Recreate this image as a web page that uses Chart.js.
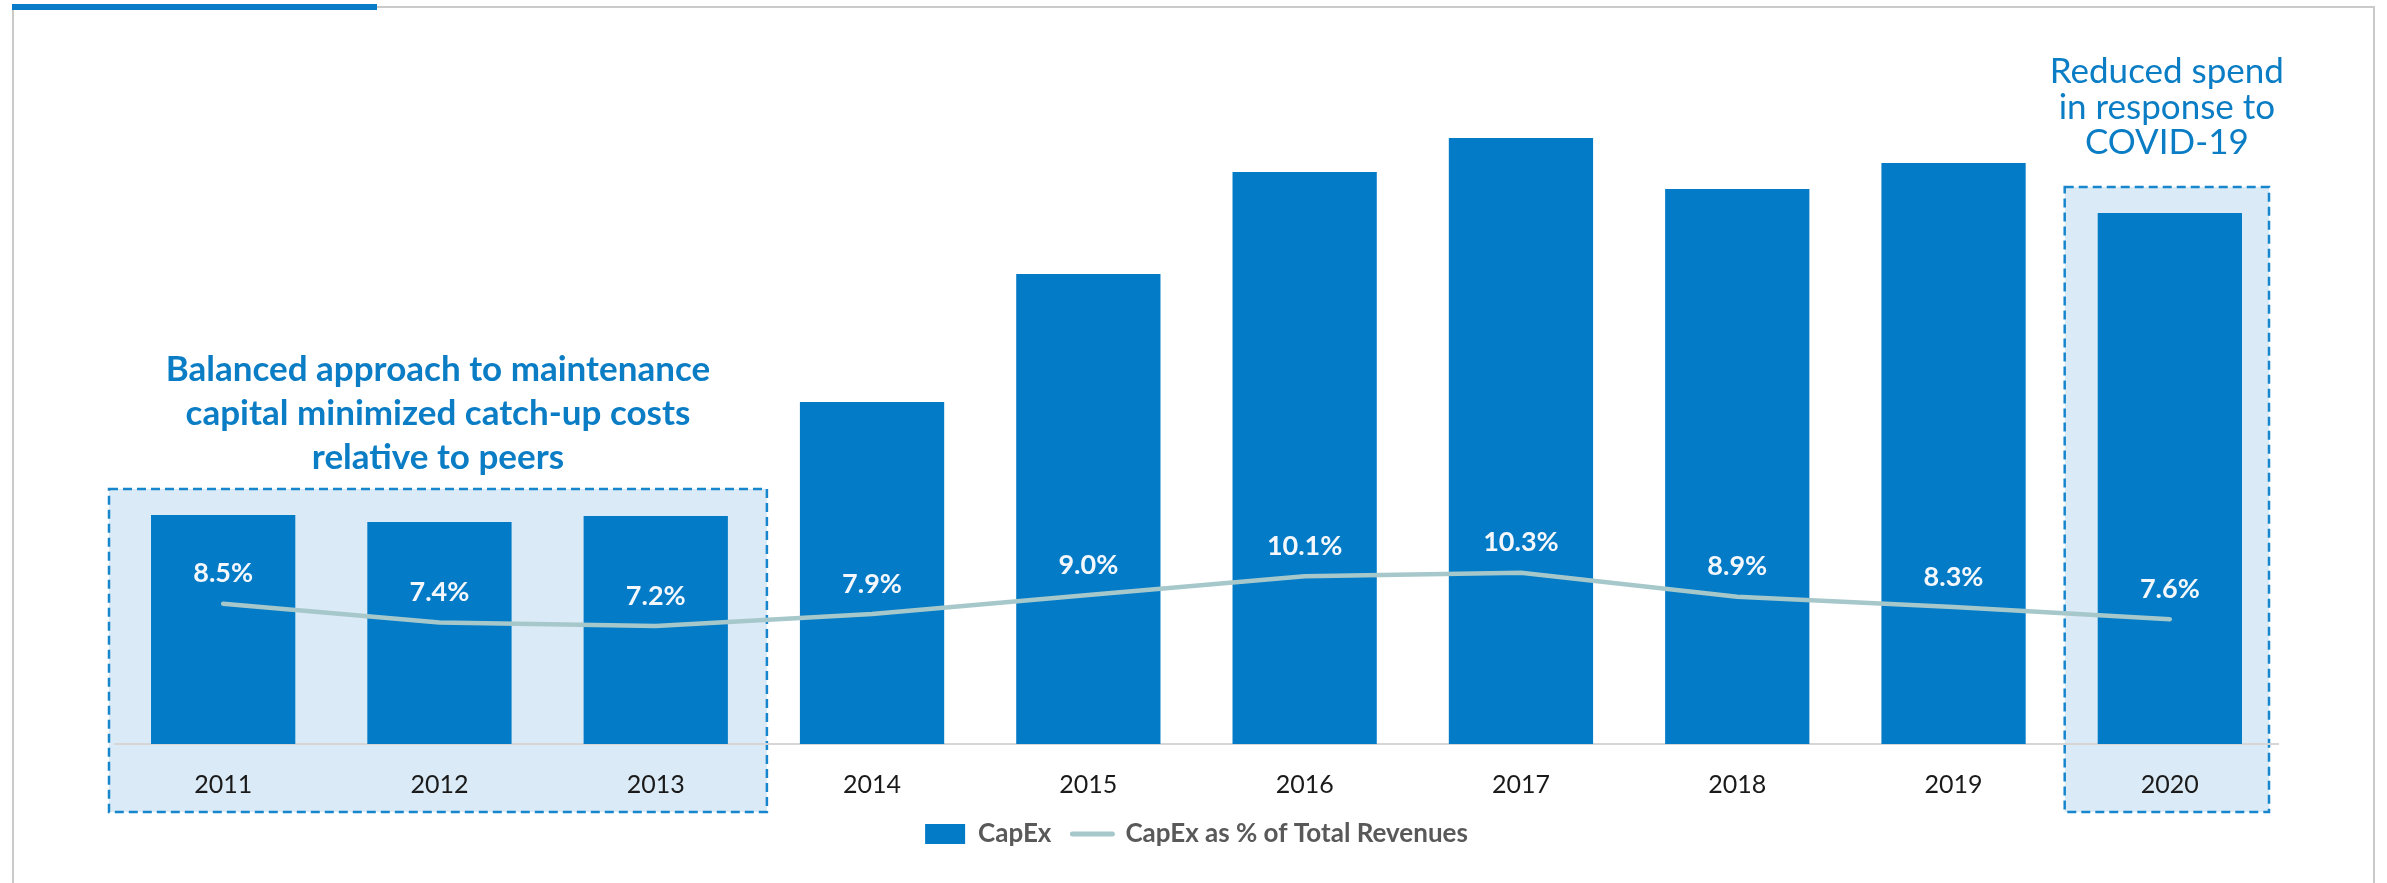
<!DOCTYPE html>
<html>
<head>
<meta charset="utf-8">
<script src="https://cdn.jsdelivr.net/npm/chart.js@4.4.1/dist/chart.umd.min.js"></script>
<style>
  html, body { margin: 0; padding: 0; background: #ffffff; }
  #wrap { position: relative; width: 2387px; height: 883px; overflow: hidden; }
  #frame {
    position: absolute; left: 12px; top: 6px; width: 2359px; height: 900px;
    border-left: 2px solid #cacaca; border-top: 2px solid #cacaca; border-right: 2px solid #cacaca;
  }
  #accent { position: absolute; left: 12px; top: 4px; width: 365px; height: 6px; background: #0a7bc6; }
  #c { position: absolute; left: 0; top: 0; }
</style>
</head>
<body>
<div id="wrap">
  <div id="frame"></div>
  <div id="accent"></div>
  <canvas id="c" width="2387" height="883"></canvas>
</div>
<script>
// Fiscal years shown on the category axis
const years = ['2011', '2012', '2013', '2014', '2015', '2016', '2017', '2018', '2019', '2020'];
// Capital expenditure per year (relative units)
const capex = [229, 222, 228, 342, 470, 572, 606, 555, 581, 531];
// CapEx as a share of total revenues, in percent
const capexPct = [8.5, 7.4, 7.2, 7.9, 9.0, 10.1, 10.3, 8.9, 8.3, 7.6];
// Value labels printed above the percentage line
const pctLabels = capexPct.map(v => v.toFixed(1) + '%');

// Callout boxes: category index range and their caption lines
const calloutRanges = [
  { from: 0, to: 2, padL: -6, padR: 3, bold: true,
    lines: ['Balanced approach to maintenance', 'capital minimized catch-up costs', 'relative to peers'] },
  { from: 9, to: 9, padL: 3, padR: -9, bold: false,
    lines: ['Reduced spend', 'in response to', 'COVID-19'] }
];

const BAR_BLUE = '#037bc7';
const LINE_TEAL = '#a6c8cb';
const CALLOUT_BLUE = '#0b7dc5';
const FONT = 'Lato, "Open Sans", sans-serif';

function boxGeometry(chart, c) {
  const x = chart.scales.x, y = chart.scales.y;
  const step = x.getPixelForValue(1) - x.getPixelForValue(0);
  const left = x.getPixelForValue(c.from) - step / 2 + c.padL;
  const right = x.getPixelForValue(c.to) + step / 2 + c.padR;
  let maxVal = 0;
  for (let i = c.from; i <= c.to; i++) maxVal = Math.max(maxVal, capex[i]);
  const top = y.getPixelForValue(maxVal) - 26;
  const bottom = chart.chartArea.bottom + 68;
  return { left, right, top, bottom };
}

const calloutPlugin = {
  id: 'callouts',
  beforeDraw(chart) {
    const ctx = chart.ctx;
    ctx.save();
    calloutRanges.forEach(c => {
      const g = boxGeometry(chart, c);
      ctx.fillStyle = '#daeaf6';
      ctx.fillRect(g.left, g.top, g.right - g.left, g.bottom - g.top);
      ctx.setLineDash([9, 5]);
      ctx.lineWidth = 2.5;
      ctx.strokeStyle = '#1786cd';
      ctx.strokeRect(g.left, g.top, g.right - g.left, g.bottom - g.top);
    });
    ctx.restore();
  },
  afterDraw(chart) {
    const ctx = chart.ctx;
    ctx.save();
    ctx.fillStyle = CALLOUT_BLUE;
    ctx.textAlign = 'center';
    ctx.textBaseline = 'alphabetic';
    calloutRanges.forEach(c => {
      const g = boxGeometry(chart, c);
      const cx = (g.left + g.right) / 2;
      if (c.bold) {
        ctx.font = 'bold 35px ' + FONT;
        c.lines.forEach((t, i) => ctx.fillText(t, cx, g.top - 108 + i * 44));
      } else {
        ctx.font = '35px ' + FONT;
        c.lines.forEach((t, i) => ctx.fillText(t, cx, g.top - 104 + i * 35.5));
      }
    });
    ctx.restore();
  }
};

const valueLabelPlugin = {
  id: 'valueLabels',
  afterDatasetsDraw(chart) {
    const meta = chart.getDatasetMeta(1);
    const ctx = chart.ctx;
    ctx.save();
    ctx.fillStyle = '#f4f8fc';
    ctx.font = 'bold 27px ' + FONT;
    ctx.textAlign = 'center';
    ctx.textBaseline = 'middle';
    meta.data.forEach((pt, i) => {
      ctx.fillText(pctLabels[i], pt.x, pt.y - 30);
    });
    ctx.restore();
  }
};

const chart = new Chart(document.getElementById('c'), {
  type: 'bar',
  data: {
    labels: years,
    datasets: [
      {
        type: 'bar',
        label: 'CapEx',
        data: capex,
        backgroundColor: BAR_BLUE,
        borderWidth: 0,
        yAxisID: 'y',
        order: 1,
        categoryPercentage: 1.0,
        barPercentage: 0.667
      },
      {
        type: 'line',
        label: 'CapEx as % of Total Revenues',
        data: capexPct,
        borderColor: LINE_TEAL,
        backgroundColor: LINE_TEAL,
        borderWidth: 4.5,
        borderCapStyle: 'round',
        borderJoinStyle: 'round',
        pointRadius: 0,
        pointHoverRadius: 0,
        tension: 0,
        yAxisID: 'y2',
        order: 0
      }
    ]
  },
  options: {
    responsive: false,
    animation: false,
    devicePixelRatio: 1,
    layout: { padding: { left: 115, right: 109, top: 60, bottom: 26 } },
    plugins: {
      tooltip: { enabled: false },
      legend: {
        position: 'bottom',
        labels: {
          usePointStyle: true,
          pointStyleWidth: 40,
          boxHeight: 20,
          padding: 21,
          color: '#595959',
          font: { family: FONT, size: 26, weight: 'bold' },
          sort: (a, b) => a.datasetIndex - b.datasetIndex,
          generateLabels(chart) {
            const items = Chart.defaults.plugins.legend.labels.generateLabels(chart);
            items.forEach(it => {
              const ds = chart.data.datasets[it.datasetIndex];
              if (ds.type === 'line') {
                it.pointStyle = 'line';
                it.lineWidth = 5;
                it.strokeStyle = LINE_TEAL;
                it.lineCap = 'round';
              } else {
                it.pointStyle = 'rect';
                it.lineWidth = 0;
                it.fillStyle = BAR_BLUE;
              }
            });
            return items;
          }
        }
      }
    },
    scales: {
      x: {
        grid: { display: false, drawTicks: false },
        border: { display: true, color: '#d6d6d6', width: 2 },
        ticks: {
          color: '#1a1a1a',
          padding: 26,
          font: { family: FONT, size: 25 }
        },
        afterFit(scale) { scale.height = 56; }
      },
      y: {
        display: false,
        min: 0,
        max: 684
      },
      y2: {
        display: false,
        position: 'right',
        min: 0.34,
        max: 40.11
      }
    }
  },
  plugins: [calloutPlugin, valueLabelPlugin]
});
</script>
</body>
</html>
